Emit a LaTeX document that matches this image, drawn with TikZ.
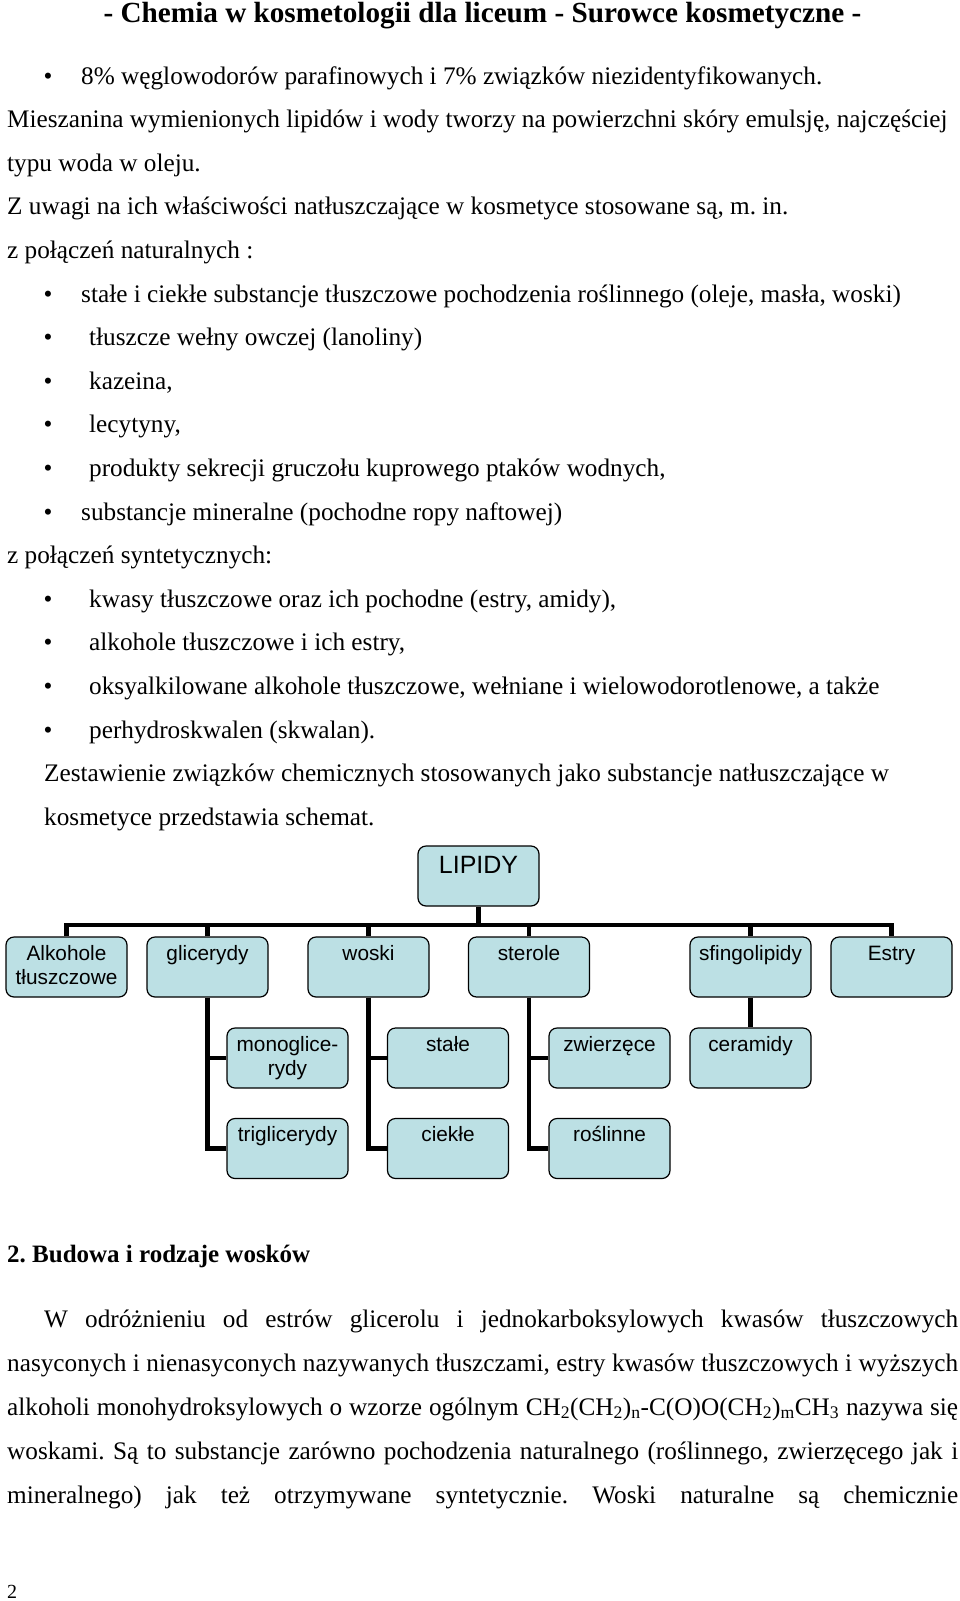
\documentclass[tikz,border=0pt]{standalone}
\usepackage{fontspec}
\setmainfont{Liberation Serif}
\newfontfamily\arialf{Liberation Sans}
\definecolor{boxfill}{RGB}{188,224,228}
\frenchspacing
\newcommand\twol[2]{\vtop{\baselineskip=24pt\lineskiplimit=-20pt\halign{\hfil##\hfil\cr#1\cr#2\cr}}}
\tikzset{
  box/.style={draw=black, line width=1.2pt, fill=boxfill, rounded corners=8pt,
    minimum width=121pt, minimum height=60pt, inner sep=0pt},
  conn/.style={line width=4.5pt, draw=black},
  btxt/.style={font=\arialf\fontsize{20.8}{24}\selectfont, anchor=base, inner sep=0pt},
  bigtxt/.style={font=\arialf\fontsize{25}{30}\selectfont, anchor=base, inner sep=0pt},
  body/.style={font=\frenchspacing\fontsize{25.25}{30}\selectfont, anchor=base west, inner sep=0pt},
  bul/.style={font=\fontsize{25.25}{30}\selectfont, anchor=base, inner sep=0pt},
  ttl/.style={font=\bfseries\fontsize{29.2}{34}\selectfont, anchor=base, inner sep=0pt},
  head/.style={font=\bfseries\fontsize{25}{30}\selectfont, anchor=base west, inner sep=0pt},
}
\begin{document}
\begin{tikzpicture}[x=1pt,y=-1pt]
\fill[white] (0,0) rectangle (960,1601);
\useasboundingbox (0,0) rectangle (960,1601);

% ---- title and text above the chart
\node[ttl] (title) at (482.5,22) {- Chemia w kosmetologii dla liceum - Surowce kosmetyczne -};
\node[bul] (b0) at (48,84) {•};
\node[body] (t0) at (81,84) {8\% węglowodorów parafinowych i 7\% związków niezidentyfikowanych.};
\node[body] (t1) at (7,127.6) {Mieszanina wymienionych lipidów i wody tworzy na powierzchni skóry emulsję, najczęściej};
\node[body] (t2) at (7,171.2) {typu woda w oleju.};
\node[body] (t3) at (7,214.8) {Z uwagi na ich właściwości natłuszczające w kosmetyce stosowane są, m. in.};
\node[body] (t4) at (7,258.4) {z połączeń naturalnych :};
\node[bul] (b5) at (48,302) {•};
\node[body] (t5) at (81,302) {stałe i ciekłe substancje tłuszczowe pochodzenia roślinnego (oleje, masła, woski)};
\node[bul] (b6) at (48,345.6) {•};
\node[body] (t6) at (89,345.6) {tłuszcze wełny owczej (lanoliny)};
\node[bul] (b7) at (48,389.2) {•};
\node[body] (t7) at (89,389.2) {kazeina,};
\node[bul] (b8) at (48,432.8) {•};
\node[body] (t8) at (89,432.8) {lecytyny,};
\node[bul] (b9) at (48,476.4) {•};
\node[body] (t9) at (89,476.4) {produkty sekrecji gruczołu kuprowego ptaków wodnych,};
\node[bul] (b10) at (48,520) {•};
\node[body] (t10) at (81,520) {substancje mineralne (pochodne ropy naftowej)};
\node[body] (t11) at (7,563.6) {z połączeń syntetycznych:};
\node[bul] (b12) at (48,607.2) {•};
\node[body] (t12) at (89,607.2) {kwasy tłuszczowe oraz ich pochodne (estry, amidy),};
\node[bul] (b13) at (48,650.8) {•};
\node[body] (t13) at (89,650.8) {alkohole tłuszczowe i ich estry,};
\node[bul] (b14) at (48,694.4) {•};
\node[body] (t14) at (89,694.4) {oksyalkilowane alkohole tłuszczowe, wełniane i wielowodorotlenowe, a także};
\node[bul] (b15) at (48,738) {•};
\node[body] (t15) at (89,738) {perhydroskwalen (skwalan).};
\node[body] (t16) at (44,781.6) {Zestawienie związków chemicznych stosowanych jako substancje natłuszczające w};
\node[body] (t17) at (44,825.2) {kosmetyce przedstawia schemat.};

% ---- chart: boxes
\coordinate (bus) at (478.5,925);
\node[box] (lip) at (478.5,876) {};
\node[box] (alk) at (66.5,967) {};
\node[box] (gl) at (207.5,967) {};
\node[box] (wo) at (368.5,967) {};
\node[box] (st) at (529,967) {};
\node[box] (sf) at (750.5,967) {};
\node[box] (es) at (891.5,967) {};
\node[box] (mono) at (287.5,1058) {};
\node[box] (sta) at (448,1058) {};
\node[box] (zw) at (609.5,1058) {};
\node[box] (cer) at (750.5,1058) {};
\node[box] (tri) at (287.5,1148.5) {};
\node[box] (cie) at (448,1148.5) {};
\node[box] (ros) at (609.5,1148.5) {};

% ---- chart: connectors
\draw[conn] (lip.south) -- (lip.south |- bus);
\draw[conn] (alk.north) -- (alk.north |- bus) -- (es.north |- bus) -- (es.north);
\draw[conn] (gl.north) -- (gl.north |- bus);
\draw[conn] (wo.north) -- (wo.north |- bus);
\draw[conn] (st.north) -- (st.north |- bus);
\draw[conn] (sf.north) -- (sf.north |- bus);
\draw[conn] (gl.south) |- (tri.west);
\draw[conn] (gl.south) |- (mono.west);
\draw[conn] (wo.south) |- (cie.west);
\draw[conn] (wo.south) |- (sta.west);
\draw[conn] (st.south) |- (ros.west);
\draw[conn] (st.south) |- (zw.west);
\draw[conn] (sf.south) -- (cer.north);

% ---- chart: labels
\node[bigtxt] (lipT) at ([yshift=-28pt]lip.north) {LIPIDY};
\node[btxt] (alkT) at ([yshift=-24pt]alk.north) {\twol{Alkohole}{tłuszczowe}};
\node[btxt] (glT) at ([yshift=-24pt]gl.north) {glicerydy};
\node[btxt] (woT) at ([yshift=-24pt]wo.north) {woski};
\node[btxt] (stT) at ([yshift=-24pt]st.north) {sterole};
\node[btxt] (sfT) at ([yshift=-24pt]sf.north) {sfingolipidy};
\node[btxt] (esT) at ([yshift=-24pt]es.north) {Estry};
\node[btxt] (monoT) at ([yshift=-24pt]mono.north) {\twol{monoglice-}{rydy}};
\node[btxt] (staT) at ([yshift=-24pt]sta.north) {stałe};
\node[btxt] (zwT) at ([yshift=-24pt]zw.north) {zwierzęce};
\node[btxt] (cerT) at ([yshift=-24pt]cer.north) {ceramidy};
\node[btxt] (triT) at ([yshift=-24pt]tri.north) {triglicerydy};
\node[btxt] (cieT) at ([yshift=-24pt]cie.north) {ciekłe};
\node[btxt] (rosT) at ([yshift=-24pt]ros.north) {roślinne};

% ---- text below the chart
\node[head] (h2) at (7,1262) {2. Budowa i rodzaje wosków};
\node[body] (p1) at (44,1327) {\makebox[914pt][s]{W odróżnieniu od estrów glicerolu i jednokarboksylowych kwasów tłuszczowych}};
\node[body] (p2) at (7,1371) {\makebox[951pt][s]{nasyconych i nienasyconych nazywanych tłuszczami, estry kwasów tłuszczowych i wyższych}};
\node[body] (p3) at (7,1415) {\makebox[951pt][s]{alkoholi monohydroksylowych o wzorze ogólnym CH\textsubscript{2}(CH\textsubscript{2})\textsubscript{n}-C(O)O(CH\textsubscript{2})\textsubscript{m}CH\textsubscript{3} nazywa się}};
\node[body] (p4) at (7,1459) {\makebox[951pt][s]{woskami. Są to substancje zarówno pochodzenia naturalnego (roślinnego, zwierzęcego jak i}};
\node[body] (p5) at (7,1503) {\makebox[951pt][s]{mineralnego) jak też otrzymywane syntetycznie. Woski naturalne są chemicznie}};
\node[anchor=base west, inner sep=0pt, font=\fontsize{20}{24}\selectfont] (pg) at (7,1598) {2};
\end{tikzpicture}
\end{document}
